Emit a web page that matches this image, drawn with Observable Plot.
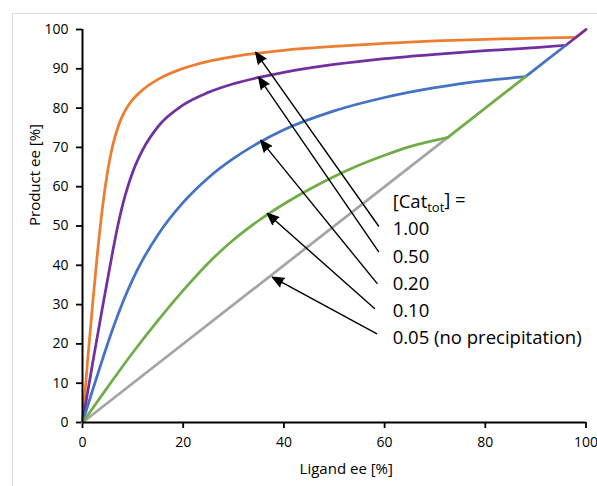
<!DOCTYPE html>
<html>
<head>
<meta charset="utf-8">
<script src="https://cdn.jsdelivr.net/npm/d3@7"></script>
<script src="https://cdn.jsdelivr.net/npm/@observablehq/plot@0.6"></script>
<style>
  html, body { margin: 0; padding: 0; background: #fff; }
  #wrap { position: relative; width: 597px; height: 486px; overflow: hidden; }
  #border { position: absolute; left: 12px; top: 13px; width: 700px; height: 600px;
            border-left: 1px solid #d9d9d9; border-top: 1px solid #d9d9d9; pointer-events: none; }
  svg g[aria-label*="axis"] line, svg g[aria-label*="axis"] path { stroke-width: 1.8px; stroke: #000; }
</style>
</head>
<body>
<div id="wrap"><div id="border"></div></div>
<script>
// ---- data ----
const xTicks = [0, 20, 40, 60, 80, 100];
const yTicks = [0, 10, 20, 30, 40, 50, 60, 70, 80, 90, 100];

const seriesNames = ["1.00", "0.50", "0.20", "0.10", "0.05 (no precipitation)"];
const seriesColors = ["#ED7D31", "#7030A0", "#4472C4", "#70AD47", "#A5A5A5"];

// curved part of each series: Ligand ee [%] -> Product ee [%]
const cat100X = [0, 1, 2, 3, 4, 5, 6, 7, 8, 9, 10, 12, 15, 20, 25, 30, 40, 50, 60, 70, 80, 90, 98];
const cat100Y = [0, 15.5, 30, 43.5, 55, 64, 70.5, 75, 78.2, 80.5, 82.2, 84.7, 87.3, 90.1, 91.9, 93.1, 94.7, 95.7, 96.5, 97.1, 97.5, 97.8, 98];
const cat050X = [0, 2, 4, 5, 6, 7, 8, 9, 10, 12, 15, 20, 25, 30, 35, 40, 50, 60, 70, 80, 90, 96];
const cat050Y = [0, 15, 29.5, 36.5, 43.5, 50, 55.5, 60, 63.8, 69.5, 75.3, 80.8, 84, 86.2, 87.8, 89.1, 91.1, 92.6, 93.7, 94.6, 95.4, 96];
const cat020X = [0, 2, 4, 6, 8, 10, 12, 15, 20, 25, 30, 35, 40, 50, 60, 70, 80, 88];
const cat020Y = [0, 8.2, 16.2, 23.8, 30.6, 36.5, 41.5, 47.8, 56, 62.3, 67.2, 71.2, 74.5, 79.3, 82.7, 85.2, 87, 88];
const cat010X = [0, 5, 10, 15, 20, 25, 30, 35, 40, 45, 50, 55, 60, 65, 72.5];
const cat010Y = [0, 9, 17.8, 26, 33.6, 40.6, 46.5, 51.4, 55.6, 59.3, 62.6, 65.5, 68, 70.2, 72.5];
const cat005X = [0, 72.5];
const cat005Y = [0, 72.5];

// precipitation part (product ee = ligand ee): start / end ligand ee
const diagStart = [98, 96, 88, 72.5, null];
const diagEnd   = [100, 100, 96, 88, null];

// annotation labels
const labelTexts = ["[Cat_tot] =", "1.00", "0.50", "0.20", "0.10", "0.05 (no precipitation)"];
const labelX = 61.6;
const labelY = [56.1, 49.3, 42.2, 35.3, 28.3, 21.6];

// arrows: tail (near label) -> tip (on curve)
const arrowX1 = [58.8, 58.8, 58.5, 58.0, 58.4];
const arrowY1 = [50.0, 43.5, 35.4, 29.0, 22.6];
const arrowX2 = [34.4, 35.0, 35.4, 36.7, 37.7];
const arrowY2 = [94.2, 87.8, 71.8, 53.2, 37.0];

// ---- build tables ----
const curveXs = [cat100X, cat050X, cat020X, cat010X, cat005X];
const curveYs = [cat100Y, cat050Y, cat020Y, cat010Y, cat005Y];
const curves = curveXs.map((xs, i) => xs.map((x, j) => ({x, y: curveYs[i][j]})));
const diags = diagStart.map((s, i) => s == null ? [] : [{x: s, y: s}, {x: diagEnd[i], y: diagEnd[i]}]);
const arrows = arrowX1.map((x1, i) => ({x1, y1: arrowY1[i], x2: arrowX2[i], y2: arrowY2[i]}));
const labels = labelTexts.map((t, i) => ({t, x: labelX, y: labelY[i]}));

const order = [4, 0, 1, 2, 3]; // grey first, then orange, purple, blue, green
const lineMarks = [];
for (const i of order) {
  lineMarks.push(Plot.line(curves[i], {x: "x", y: "y", stroke: seriesColors[i], strokeWidth: 2.75,
    curve: i === 4 ? "linear" : "monotone-x"}));
  if (diags[i].length) lineMarks.push(Plot.line(diags[i], {x: "x", y: "y", stroke: seriesColors[i], strokeWidth: 2.75}));
}

const chart = Plot.plot({
  width: 597,
  height: 486,
  marginLeft: 82,
  marginRight: 11.5,
  marginTop: 29,
  marginBottom: 64,
  x: {domain: [0, 100], ticks: xTicks, tickSize: 6, tickPadding: 9, label: null},
  y: {domain: [0, 100], ticks: yTicks, tickSize: 6, tickPadding: 8, label: null},
  style: {fontFamily: "'Open Sans', sans-serif", fontSize: "14px", color: "#000", background: "transparent", overflow: "visible"},
  marks: [
    ...lineMarks,
    Plot.ruleX([0], {stroke: "#000", strokeWidth: 2}),
    Plot.ruleY([0], {stroke: "#000", strokeWidth: 2}),
    Plot.arrow(arrows, {x1: "x1", y1: "y1", x2: "x2", y2: "y2", stroke: "#000", fill: "#000",
      strokeWidth: 1.4, headLength: 13, headAngle: 45}),
    Plot.text(labels, {x: "x", y: "y", text: "t", textAnchor: "start", lineAnchor: "middle",
      fontSize: 18.5, fill: "#000"}),
    Plot.text(["Ligand ee [%]"], {frameAnchor: "bottom", lineAnchor: "middle", dx: 12, dy: 47,
      fontSize: 15, fill: "#000"}),
    Plot.text(["Product ee [%]"], {frameAnchor: "left", lineAnchor: "middle", rotate: -90, dx: -47,
      fontSize: 15, fill: "#000"})
  ]
});

// subscript for "tot"
d3.select(chart).selectAll("text").each(function() {
  if (this.textContent === "[Cat_tot] =") {
    const t = d3.select(this);
    t.text(null);
    t.append("tspan").text("[Cat");
    t.append("tspan").attr("font-size", "70%").attr("dy", "0.3em").text("tot");
    t.append("tspan").attr("dy", "-0.3em").text("] =");
  }
});

chart.style.position = "absolute";
chart.style.left = "0px";
chart.style.top = "0px";
document.getElementById("wrap").appendChild(chart);
</script>
</body>
</html>
